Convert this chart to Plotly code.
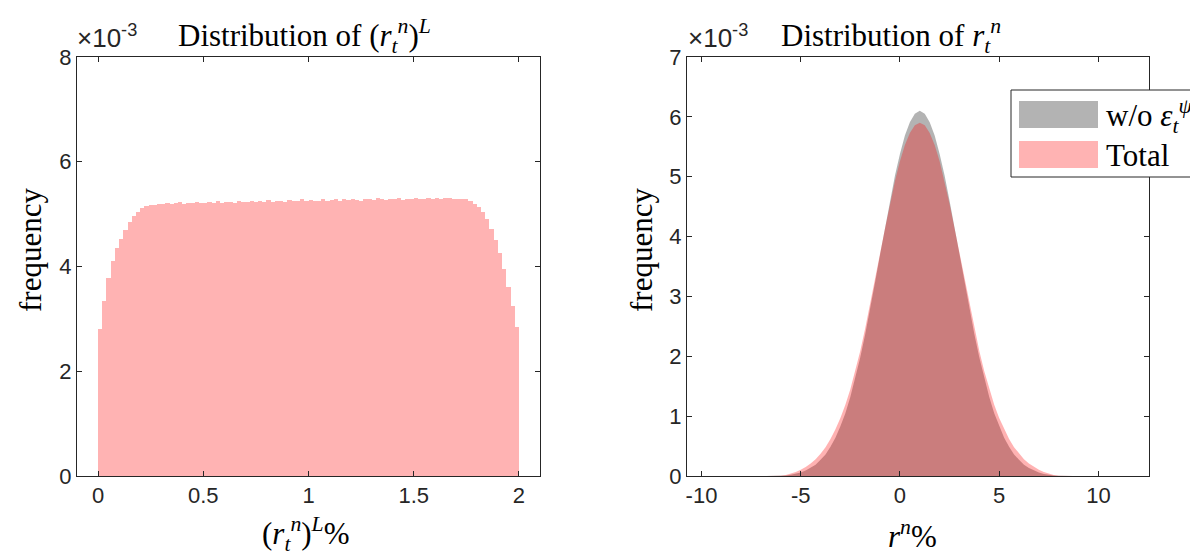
import plotly.graph_objects as go

# ---------------- data (frequencies in units of 1e-3) ----------------
left_bin_centers = [
    0.01, 0.03, 0.05, 0.07, 0.09, 0.11, 0.13, 0.15, 0.17, 0.19,
    0.21, 0.23, 0.25, 0.27, 0.29, 0.31, 0.33, 0.35, 0.37, 0.39,
    0.41, 0.43, 0.45, 0.47, 0.49, 0.51, 0.53, 0.55, 0.57, 0.59,
    0.61, 0.63, 0.65, 0.67, 0.69, 0.71, 0.73, 0.75, 0.77, 0.79,
    0.81, 0.83, 0.85, 0.87, 0.89, 0.91, 0.93, 0.95, 0.97, 0.99,
    1.01, 1.03, 1.05, 1.07, 1.09, 1.11, 1.13, 1.15, 1.17, 1.19,
    1.21, 1.23, 1.25, 1.27, 1.29, 1.31, 1.33, 1.35, 1.37, 1.39,
    1.41, 1.43, 1.45, 1.47, 1.49, 1.51, 1.53, 1.55, 1.57, 1.59,
    1.61, 1.63, 1.65, 1.67, 1.69, 1.71, 1.73, 1.75, 1.77, 1.79,
    1.81, 1.83, 1.85, 1.87, 1.89, 1.91, 1.93, 1.95, 1.97, 1.99,
]
left_freq = [
    2.80, 3.35, 3.78, 4.10, 4.35, 4.52, 4.70, 4.85, 4.96, 5.05,
    5.11, 5.15, 5.17, 5.18, 5.19, 5.20, 5.22, 5.19, 5.21, 5.23,
    5.20, 5.22, 5.21, 5.24, 5.22, 5.21, 5.23, 5.22, 5.25, 5.22,
    5.24, 5.23, 5.22, 5.25, 5.23, 5.24, 5.26, 5.23, 5.25, 5.24,
    5.27, 5.24, 5.26, 5.25, 5.24, 5.27, 5.25, 5.26, 5.28, 5.25,
    5.27, 5.26, 5.25, 5.28, 5.26, 5.27, 5.29, 5.26, 5.28, 5.27,
    5.29, 5.27, 5.26, 5.29, 5.28, 5.27, 5.30, 5.28, 5.27, 5.29,
    5.28, 5.30, 5.27, 5.29, 5.28, 5.30, 5.29, 5.28, 5.30, 5.29,
    5.31, 5.29, 5.30, 5.30, 5.29, 5.29, 5.29, 5.28, 5.25, 5.20,
    5.13, 5.04, 4.90, 4.72, 4.50, 4.25, 3.95, 3.60, 3.25, 2.85,
]

right_x = [
    -6.75, -6.50, -6.25, -6.00, -5.75, -5.50, -5.25, -5.00, -4.75, -4.50,
    -4.25, -4.00, -3.75, -3.50, -3.25, -3.00, -2.75, -2.50, -2.25, -2.00,
    -1.75, -1.50, -1.25, -1.00, -0.75, -0.50, -0.25, 0.00, 0.25, 0.50,
    0.75, 1.00, 1.25, 1.50, 1.75, 2.00, 2.25, 2.50, 2.75, 3.00,
    3.25, 3.50, 3.75, 4.00, 4.25, 4.50, 4.75, 5.00, 5.25, 5.50,
    5.75, 6.00, 6.25, 6.50, 6.75, 7.00, 7.25, 7.50, 7.75, 8.00,
    8.25, 8.50, 8.75,
]
wo_eps_freq = [
    0.0, 0.0, 0.0, 0.004, 0.010, 0.020, 0.035, 0.058, 0.090, 0.135,
    0.19, 0.27, 0.36, 0.49, 0.64, 0.83, 1.05, 1.32, 1.63, 1.98,
    2.37, 2.79, 3.24, 3.70, 4.16, 4.60, 5.02, 5.38, 5.69, 5.91,
    6.05, 6.10, 6.05, 5.91, 5.69, 5.38, 5.02, 4.60, 4.16, 3.70,
    3.24, 2.79, 2.37, 1.98, 1.63, 1.32, 1.05, 0.83, 0.64, 0.49,
    0.36, 0.27, 0.19, 0.135, 0.090, 0.058, 0.035, 0.020, 0.010, 0.004,
    0.0, 0.0, 0.0,
]
total_freq = [
    0.0, 0.0, 0.0, 0.006, 0.016, 0.035, 0.065, 0.105, 0.15, 0.21,
    0.28, 0.37, 0.48, 0.62, 0.78, 0.97, 1.19, 1.45, 1.75, 2.09,
    2.47, 2.87, 3.29, 3.72, 4.14, 4.55, 4.93, 5.26, 5.53, 5.73,
    5.86, 5.90, 5.86, 5.73, 5.53, 5.26, 4.93, 4.55, 4.14, 3.72,
    3.29, 2.87, 2.47, 2.09, 1.75, 1.45, 1.19, 0.97, 0.78, 0.62,
    0.48, 0.37, 0.28, 0.21, 0.15, 0.105, 0.065, 0.035, 0.016, 0.006,
    0.0, 0.0, 0.0,
]

left_xticks = [0, 0.5, 1, 1.5, 2]
left_xticklabels = ["0", "0.5", "1", "1.5", "2"]
left_yticks = [0, 2, 4, 6, 8]
right_xticks = [-10, -5, 0, 5, 10]
right_xticklabels = ["-10", "-5", "0", "5", "10"]
right_yticks = [0, 1, 2, 3, 4, 5, 6, 7]

# ---------------- figure ----------------
# the page body adds an 8px offset, so the figure is 8px smaller and every
# reference pixel position is shifted by OFF
OFF = 8
W, H = 1198 - OFF, 551 - OFF
ML, MR, MT, MB = 77 - OFF, 49, 57 - OFF, 75
PW, PH = W - ML - MR, H - MT - MB


def px(xp):
    return (xp - OFF - ML) / PW


def py(yp):
    return (H - MB - (yp - OFF)) / PH


AX = "#262626"
SERIF = "Liberation Serif, Times New Roman, serif"
SANS = "Liberation Sans, Arial, sans-serif"
TXT = 31

fig = go.Figure()

fig.add_trace(go.Bar(
    x=left_bin_centers, y=left_freq, width=0.02,
    marker=dict(color="rgb(255,179,179)", line=dict(width=0)),
    xaxis="x", yaxis="y", showlegend=False, hoverinfo="x+y",
))

fig.add_trace(go.Scatter(
    x=right_x, y=wo_eps_freq, mode="lines", fill="tozeroy",
    line=dict(width=0, color="rgba(128,128,128,0)"),
    fillcolor="rgba(128,128,128,0.6)",
    xaxis="x2", yaxis="y2", showlegend=False,
))
fig.add_trace(go.Scatter(
    x=right_x, y=total_freq, mode="lines", fill="tozeroy",
    line=dict(width=0, color="rgba(255,0,0,0)"),
    fillcolor="rgba(255,0,0,0.3)",
    xaxis="x2", yaxis="y2", showlegend=False,
))

axis_common = dict(
    showline=True, linecolor=AX, linewidth=1, mirror="ticks",
    ticks="inside", ticklen=5, tickcolor=AX, tickwidth=1,
    showgrid=False, zeroline=False,
    tickfont=dict(family=SANS, size=22, color=AX),
)

left_dom = [0, px(540)]
right_dom = [px(687), 1]

fig.update_layout(
    width=W, height=H,
    margin=dict(l=ML, r=MR, t=MT, b=MB, autoexpand=False),
    paper_bgcolor="white", plot_bgcolor="white",
    bargap=0, barmode="overlay",
    xaxis=dict(domain=left_dom, range=[-0.1, 2.1], tickvals=left_xticks,
               ticktext=left_xticklabels, anchor="y", **axis_common),
    yaxis=dict(domain=[0, 1], range=[0, 8], tickvals=left_yticks,
               anchor="x", **axis_common),
    xaxis2=dict(domain=right_dom, range=[-10.73, 12.55], tickvals=right_xticks,
                ticktext=right_xticklabels, anchor="y2", **axis_common),
    yaxis2=dict(domain=[0, 1], range=[0, 7], tickvals=right_yticks,
                anchor="x2", **axis_common),
)

annotations = []
for xl in (75, 686):
    annotations.append(dict(xref="paper", yref="paper", x=px(xl), y=py(55),
                            xanchor="left", yanchor="bottom", showarrow=False,
                            text="×10<sup>-3</sup>",
                            font=dict(family=SANS, size=26, color=AX)))
# titles
annotations.append(dict(xref="paper", yref="paper", x=px(304), y=py(60),
                        xanchor="center", yanchor="bottom", showarrow=False,
                        text="Distribution of (<i>r</i><sub><i>t</i></sub><sup><i>n</i></sup>)<sup><i>L</i></sup>",
                        font=dict(family=SERIF, size=TXT, color="black")))
annotations.append(dict(xref="paper", yref="paper", x=px(891), y=py(60),
                        xanchor="center", yanchor="bottom", showarrow=False,
                        text="Distribution of <i>r</i><sub><i>t</i></sub><sup><i>n</i></sup>",
                        font=dict(family=SERIF, size=TXT, color="black")))
# y labels
for xl in (30, 641):
    annotations.append(dict(xref="paper", yref="paper", x=px(xl), y=py(250),
                            xanchor="center", yanchor="middle", showarrow=False,
                            textangle=-90, text="frequency",
                            font=dict(family=SERIF, size=TXT, color="black")))
# x labels
annotations.append(dict(xref="paper", yref="paper", x=px(306), y=py(534),
                        xanchor="center", yanchor="middle", showarrow=False,
                        text="(<i>r</i><sub><i>t</i></sub><sup><i>n</i></sup>)<sup><i>L</i></sup>%",
                        font=dict(family=SERIF, size=TXT, color="black")))
annotations.append(dict(xref="paper", yref="paper", x=px(912), y=py(534),
                        xanchor="center", yanchor="middle", showarrow=False,
                        text="<i>r</i><sup><i>n</i></sup>%",
                        font=dict(family=SERIF, size=TXT, color="black")))
# legend texts
annotations.append(dict(xref="paper", yref="paper", x=px(1104), y=py(116),
                        xanchor="left", yanchor="middle", showarrow=False,
                        text="w/o <i>ε</i><sub><i>t</i></sub><sup><i>ψ</i></sup>",
                        font=dict(family=SERIF, size=TXT, color="black")))
annotations.append(dict(xref="paper", yref="paper", x=px(1104), y=py(155),
                        xanchor="left", yanchor="middle", showarrow=False,
                        text="Total",
                        font=dict(family=SERIF, size=TXT, color="black")))

shapes = [
    # legend box
    dict(type="rect", xref="paper", yref="paper", x0=px(1011), x1=px(1230),
         y0=py(177), y1=py(90), line=dict(color=AX, width=1),
         fillcolor="white", layer="above"),
    dict(type="rect", xref="paper", yref="paper", x0=px(1019), x1=px(1098),
         y0=py(128), y1=py(101), line=dict(width=0),
         fillcolor="rgb(179,179,179)", layer="above"),
    dict(type="rect", xref="paper", yref="paper", x0=px(1019), x1=px(1098),
         y0=py(168), y1=py(141), line=dict(width=0),
         fillcolor="rgb(255,179,179)", layer="above"),
]

fig.update_layout(annotations=annotations, shapes=shapes)
fig.write_html("out.html")
